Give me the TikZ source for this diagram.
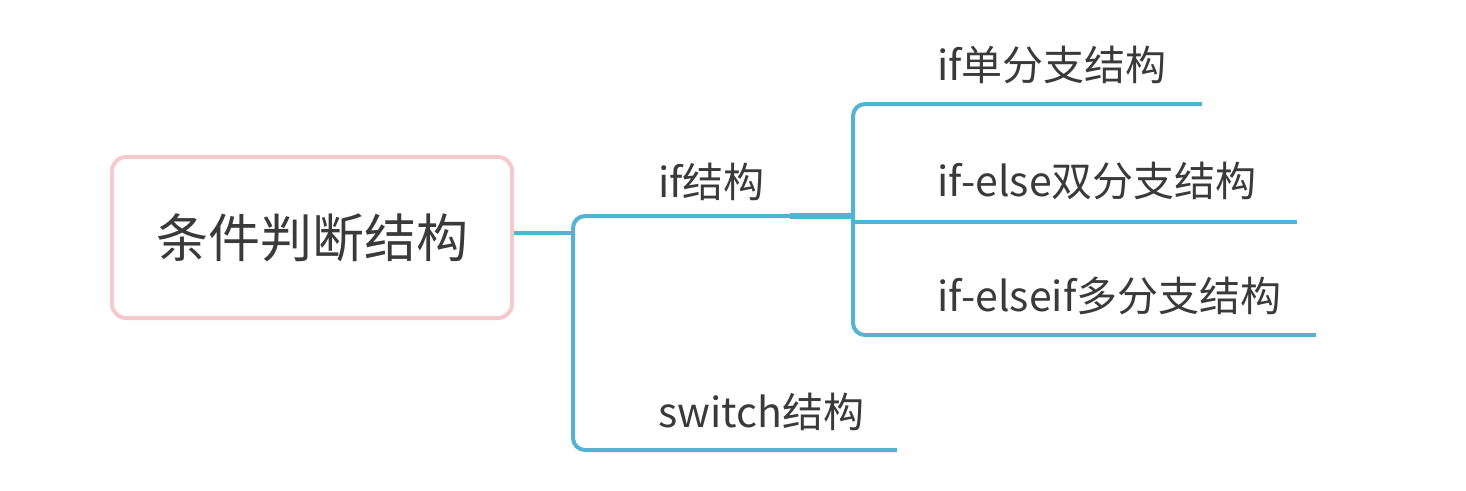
\documentclass[tikz,border=0pt]{standalone}
\usepackage{fontspec}
\newfontfamily\cjk{Noto Sans CJK SC}
\definecolor{lineblue}{HTML}{55B2D3}
\definecolor{rootpink}{HTML}{F6C9CC}
\definecolor{txt}{HTML}{3A3A3A}
\begin{document}
\begin{tikzpicture}[x=1pt,y=-1pt,
  conn/.style={draw=lineblue,line width=4pt,rounded corners=12pt},
  lbl/.style={anchor=west,inner sep=0pt,text=txt,font=\cjk\fontsize{41}{45}\selectfont},
  rootbox/.style={draw=rootpink,line width=4pt,rounded corners=14pt,minimum width=400pt,minimum height=161pt,text=txt,font=\cjk\fontsize{52}{58}\selectfont}]
\useasboundingbox (0,0) rectangle (1466,490);
\node[rootbox] (root) at (312,237.5) {条件判断结构};
% junction coordinates
\coordinate (j1) at (573,233);
\coordinate (jb) at (573,450);
\coordinate (ifend) at (853,216);
\coordinate (swend) at (897,450);
\coordinate (k1) at (853,104);
\coordinate (k2) at (853,222);
\coordinate (k3) at (853,335);
\coordinate (e1) at (1202,104);
\coordinate (e2) at (1297,222);
\coordinate (e3) at (1316,335);
\coordinate (thick) at (790,216);
% connectors
\draw[conn] (root.east |- j1) -- (j1);
\draw[conn] (ifend) -| (jb) -- (swend);
\draw[draw=lineblue,line width=6pt] (thick) -- (ifend);
\draw[conn] (e1) -| (k3) -- (e3);
\draw[conn] (k2) -- (e2);
% labels
\node[lbl] (if) at (658,182) {if结构};
\node[lbl] (sw) at (658,412) {switch结构};
\node[lbl] (a) at (937,65) {if单分支结构};
\node[lbl] (b) at (937,181) {if-else双分支结构};
\node[lbl] (c) at (937,296) {if-elseif多分支结构};
\end{tikzpicture}
\end{document}
